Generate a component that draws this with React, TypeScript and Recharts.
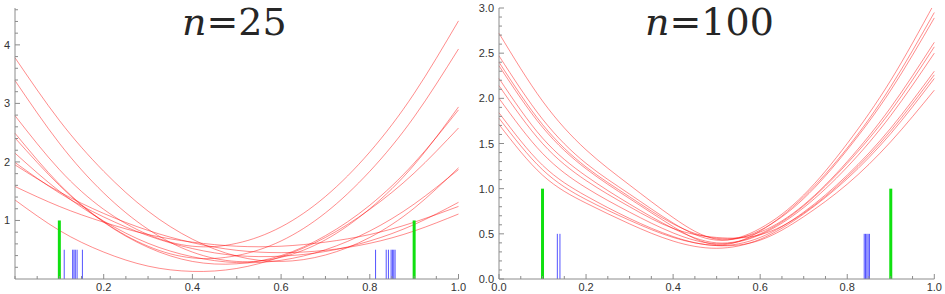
import { LineChart, Line, XAxis, YAxis, ReferenceLine } from 'recharts'

// sample positions along x for every fitted curve
const xs = [0, 0.1, 0.2, 0.3, 0.4, 0.5, 0.6, 0.7, 0.8, 0.9, 1.0]

// n = 25: ten fitted curves
const fits25 = [
  [3.78, 2.71, 1.84, 1.16, 0.68, 0.39, 0.30, 0.41, 0.71, 1.21, 1.90],
  [3.39, 2.32, 1.47, 0.85, 0.46, 0.30, 0.37, 0.67, 1.20, 1.95, 2.94],
  [2.79, 1.87, 1.19, 0.76, 0.56, 0.61, 0.89, 1.41, 2.17, 3.17, 4.41],
  [2.49, 1.62, 0.98, 0.56, 0.36, 0.40, 0.65, 1.13, 1.84, 2.77, 3.93],
  [2.41, 1.60, 0.97, 0.54, 0.30, 0.26, 0.40, 0.74, 1.26, 1.98, 2.89],
  [2.15, 1.50, 0.99, 0.61, 0.38, 0.28, 0.32, 0.50, 0.82, 1.28, 1.87],
  [1.99, 1.47, 1.06, 0.74, 0.52, 0.40, 0.39, 0.47, 0.65, 0.93, 1.31],
  [1.95, 1.49, 1.12, 0.83, 0.62, 0.49, 0.45, 0.49, 0.61, 0.82, 1.11],
  [1.58, 1.24, 0.97, 0.76, 0.63, 0.56, 0.56, 0.63, 0.76, 0.97, 1.24],
  [1.35, 0.83, 0.46, 0.22, 0.13, 0.18, 0.38, 0.71, 1.19, 1.81, 2.58],
]

// n = 100
const fits100 = [
  [2.72, 1.97, 1.43, 1.04, 0.68, 0.44, 0.54, 0.89, 1.43, 2.09, 2.89],
  [2.47, 1.77, 1.28, 0.94, 0.62, 0.43, 0.56, 0.93, 1.50, 2.20, 3.05],
  [2.40, 1.71, 1.24, 0.91, 0.61, 0.45, 0.52, 0.82, 1.30, 1.90, 2.62],
  [2.36, 1.68, 1.22, 0.89, 0.58, 0.38, 0.53, 0.91, 1.45, 2.13, 2.95],
  [2.22, 1.56, 1.14, 0.83, 0.56, 0.40, 0.50, 0.81, 1.28, 1.86, 2.57],
  [2.14, 1.50, 1.09, 0.80, 0.56, 0.46, 0.49, 0.73, 1.13, 1.64, 2.26],
  [2.00, 1.39, 1.01, 0.74, 0.51, 0.39, 0.49, 0.79, 1.24, 1.81, 2.50],
  [1.84, 1.26, 0.92, 0.67, 0.47, 0.37, 0.46, 0.74, 1.15, 1.67, 2.30],
  [1.78, 1.21, 0.88, 0.65, 0.46, 0.37, 0.43, 0.69, 1.05, 1.52, 2.09],
  [1.71, 1.15, 0.84, 0.61, 0.42, 0.34, 0.44, 0.72, 1.11, 1.61, 2.22],
]

// green reference bars (height 1) and blue marks (height 0.5)
const greenX = [0.1, 0.9]
const greenH = 1
const blue25 = [0.111, 0.13, 0.133, 0.136, 0.14, 0.152, 0.813, 0.837, 0.842, 0.848, 0.851, 0.854, 0.857]
const blue100 = [0.134, 0.14, 0.839, 0.842, 0.845, 0.848, 0.851]
const blueH = 0.5

// ticks
const xTicks = [0, 0.05, 0.1, 0.15, 0.2, 0.25, 0.3, 0.35, 0.4, 0.45, 0.5, 0.55, 0.6, 0.65, 0.7, 0.75, 0.8, 0.85, 0.9, 0.95, 1]
const xLabels25 = [0.2, 0.4, 0.6, 0.8, 1]
const xLabels100 = [0, 0.2, 0.4, 0.6, 0.8, 1]
const yTicks25 = [0.2, 0.4, 0.6, 0.8, 1, 1.2, 1.4, 1.6, 1.8, 2, 2.2, 2.4, 2.6, 2.8, 3, 3.2, 3.4, 3.6, 3.8, 4, 4.2, 4.4, 4.6]
const yLabels25 = [1, 2, 3, 4]
const yTicks100 = [0, 0.1, 0.2, 0.3, 0.4, 0.5, 0.6, 0.7, 0.8, 0.9, 1, 1.1, 1.2, 1.3, 1.4, 1.5, 1.6, 1.7, 1.8, 1.9, 2, 2.1, 2.2, 2.3, 2.4, 2.5, 2.6, 2.7, 2.8, 2.9, 3]
const yLabels100 = [0, 0.5, 1, 1.5, 2, 2.5, 3]

const axisColor = '#8c8c8c'
const labelFont = 'Liberation Sans, Arial, sans-serif'

const isMajor = (labels: number[], v: number) => labels.some((l) => Math.abs(l - v) < 1e-6)

function toRows(fits: number[][]) {
  return xs.map((x, i) => {
    const row: Record<string, number> = { x }
    fits.forEach((f, j) => {
      row['c' + j] = f[i]
    })
    return row
  })
}

function XTick(props: any) {
  const { x, y, payload, labels, digits } = props
  const major = isMajor(labels, payload.value)
  return (
    <g>
      <line x1={x} x2={x} y1={y} y2={y - (major ? 5 : 3)} stroke={axisColor} />
      {major && (
        <text x={x} y={y + 12} textAnchor="middle" fontSize={11} fontFamily={labelFont} fill="#333">
          {payload.value.toFixed(digits)}
        </text>
      )}
    </g>
  )
}

function YTick(props: any) {
  const { x, y, payload, labels, digits } = props
  const major = isMajor(labels, payload.value)
  return (
    <g>
      <line x1={x} x2={x + (major ? 5 : 3)} y1={y} y2={y} stroke={axisColor} />
      {major && (
        <text x={x - 5} y={y + 4} textAnchor="end" fontSize={11} fontFamily={labelFont} fill="#333">
          {payload.value.toFixed(digits)}
        </text>
      )}
    </g>
  )
}

interface PanelProps {
  fits: number[][]
  blue: number[]
  width: number
  yAxisWidth: number
  marginRight: number
  yMax: number
  yTicks: number[]
  yLabels: number[]
  yDigits: number
  xLabels: number[]
  xDigits: number
}

function Panel({ fits, blue, width, yAxisWidth, marginRight, yMax, yTicks, yLabels, yDigits, xLabels, xDigits }: PanelProps) {
  return (
    <LineChart width={width} height={294} data={toRows(fits)} margin={{ top: 8, right: marginRight, left: 0, bottom: 0 }}>
      <XAxis
        dataKey="x"
        type="number"
        domain={[0, 1]}
        ticks={xTicks}
        interval={0}
        height={15}
        tickSize={0}
        tickMargin={0}
        tickLine={false}
        axisLine={{ stroke: axisColor }}
        tick={<XTick labels={xLabels} digits={xDigits} />}
      />
      <YAxis
        type="number"
        domain={[0, yMax]}
        allowDataOverflow
        ticks={yTicks}
        interval={0}
        width={yAxisWidth}
        tickSize={0}
        tickMargin={0}
        tickLine={false}
        axisLine={{ stroke: axisColor }}
        tick={<YTick labels={yLabels} digits={yDigits} />}
      />
      {fits.map((_, j) => (
        <Line
          key={j}
          type="natural"
          dataKey={'c' + j}
          stroke="#ff0000"
          strokeOpacity={0.45}
          strokeWidth={1}
          dot={false}
          activeDot={false}
          isAnimationActive={false}
        />
      ))}
      {blue.map((bx, i) => (
        <ReferenceLine
          key={'b' + i}
          segment={[{ x: bx, y: 0 }, { x: bx, y: blueH }]}
          stroke="#1a1aff"
          strokeOpacity={0.75}
          strokeWidth={1}
        />
      ))}
      {greenX.map((gx, i) => (
        <ReferenceLine
          key={'g' + i}
          segment={[{ x: gx, y: 0 }, { x: gx, y: greenH }]}
          stroke="#10e010"
          strokeWidth={3}
        />
      ))}
    </LineChart>
  )
}

export default function App() {
  return (
    <div style={{ position: 'absolute', left: 0, top: 0, width: 945, height: 294, background: '#fff' }}>
      <div style={{ position: 'absolute', left: 0, top: 0 }}>
        <Panel
          fits={fits25}
          blue={blue25}
          width={470}
          yAxisWidth={15}
          marginRight={11.5}
          yMax={4.63}
          yTicks={yTicks25}
          yLabels={yLabels25}
          yDigits={0}
          xLabels={xLabels25}
          xDigits={1}
        />
      </div>
      <div style={{ position: 'absolute', left: 470, top: 0 }}>
        <Panel
          fits={fits100}
          blue={blue100}
          width={475}
          yAxisWidth={29}
          marginRight={10.7}
          yMax={3}
          yTicks={yTicks100}
          yLabels={yLabels100}
          yDigits={1}
          xLabels={xLabels100}
          xDigits={1}
        />
      </div>
      <svg width={945} height={294} style={{ position: 'absolute', left: 0, top: 0, pointerEvents: 'none' }}>
        <text x={182} y={35} fontFamily="DejaVu Serif" fontSize={38} fill="#262626">
          <tspan fontStyle="italic">n</tspan>=25
        </text>
        <text x={645} y={35} fontFamily="DejaVu Serif" fontSize={38} fill="#262626">
          <tspan fontStyle="italic">n</tspan>=100
        </text>
      </svg>
    </div>
  )
}
